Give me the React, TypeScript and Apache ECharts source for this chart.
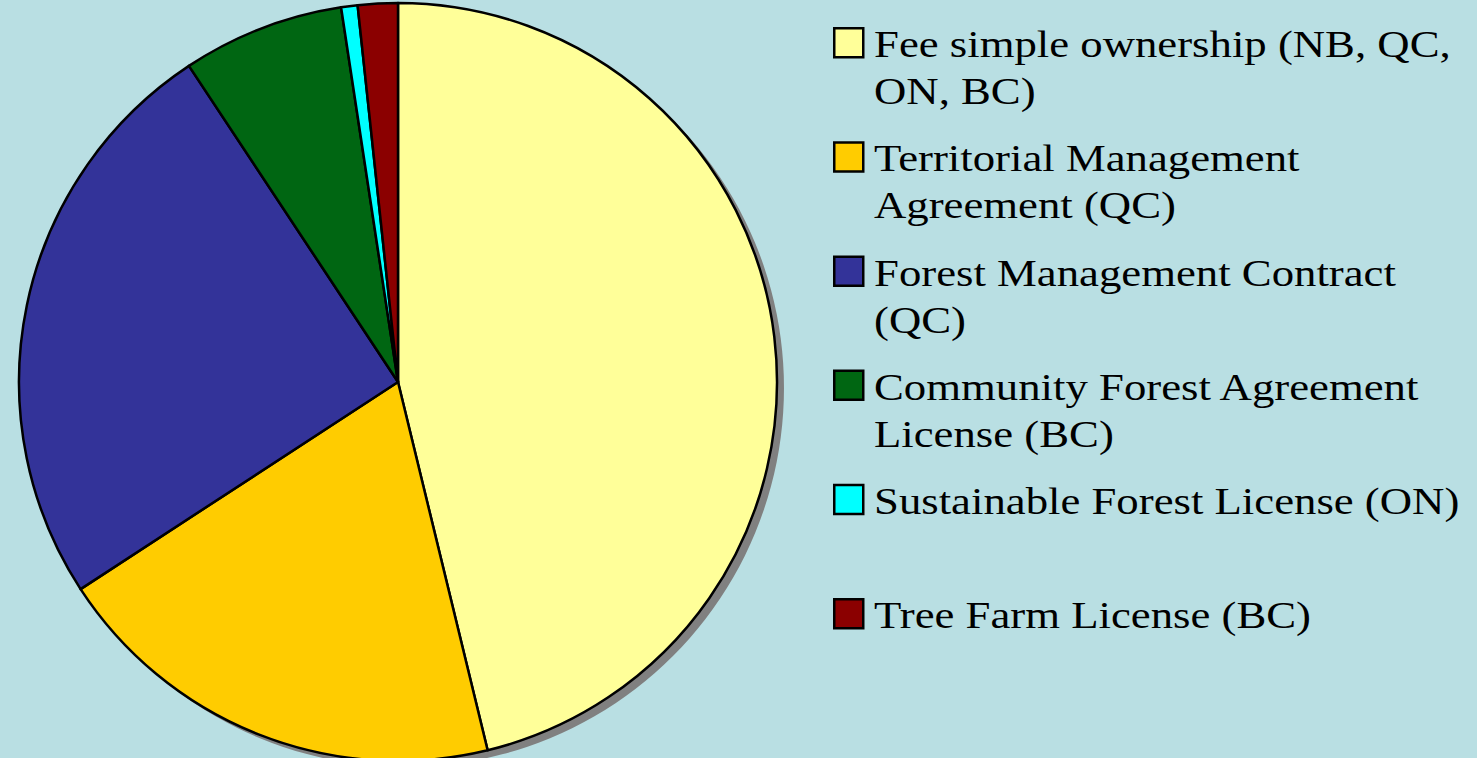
import React, { useEffect, useRef } from "react";
import * as echarts from "echarts";

const categories = [
  "Fee simple ownership (NB, QC, ON, BC)",
  "Territorial Management Agreement (QC)",
  "Forest Management Contract (QC)",
  "Community Forest Agreement License (BC)",
  "Sustainable Forest License (ON)",
  "Tree Farm License (BC)",
];
const legendLabels = [
  "Fee simple ownership (NB, QC,\nON, BC)",
  "Territorial Management\nAgreement (QC)",
  "Forest Management Contract\n(QC)",
  "Community Forest Agreement\nLicense (BC)",
  "Sustainable Forest License (ON)",
  "Tree Farm License (BC)",
];
const values = [46.2, 19.6, 24.9, 6.9, 0.7, 1.7];
const colors = ["#FFFF99", "#FFCC00", "#333399", "#006612", "#00FFFF", "#8B0000"];

export default function App() {
  const ref = useRef<HTMLDivElement>(null);
  useEffect(() => {
    if (!ref.current) return;
    const chart = echarts.init(ref.current, null, { renderer: "svg" });
    const cx = 398;
    const cy = 382;
    const r = 379;
    const legendTop = 27;
    const legendStep = 114.2;
    const graphic: any[] = [];
    legendLabels.forEach((lab, i) => {
      const y = legendTop + i * legendStep;
      graphic.push({
        type: "rect",
        left: 833,
        top: y,
        shape: { x: 0, y: 0, width: 29, height: 29 },
        style: { fill: colors[i], stroke: "#000", lineWidth: 2.5 },
      });
      graphic.push({
        type: "text",
        x: 874,
        y: y - 6,
        scaleX: 1.21,
        style: {
          text: lab,
          fontSize: 37,
          fontFamily: "'Liberation Serif', 'Times New Roman', serif",
          fill: "#000",
          lineHeight: 47,
          verticalAlign: "top",
          align: "left",
        },
      });
    });
    chart.setOption({
      animation: false,
      backgroundColor: "#B9DFE3",
      graphic,
      series: [
        {
          type: "pie",
          silent: true,
          z: 1,
          center: [cx + 7, cy + 6],
          radius: r,
          label: { show: false },
          labelLine: { show: false },
          itemStyle: { color: "#808080", borderWidth: 0 },
          data: [{ value: 1, name: "shadow" }],
        },
        {
          type: "pie",
          z: 2,
          center: [cx, cy],
          radius: r,
          startAngle: 90,
          clockwise: true,
          label: { show: false },
          labelLine: { show: false },
          emphasis: { disabled: true },
          itemStyle: { borderColor: "#000", borderWidth: 2.5 },
          data: categories.map((c, i) => ({
            name: c,
            value: values[i],
            itemStyle: { color: colors[i] },
          })),
        },
      ],
    });
    return () => chart.dispose();
  }, []);
  return (
    <div
      ref={ref}
      style={{ position: "absolute", left: 0, top: 0, width: 1477, height: 758 }}
    />
  );
}
